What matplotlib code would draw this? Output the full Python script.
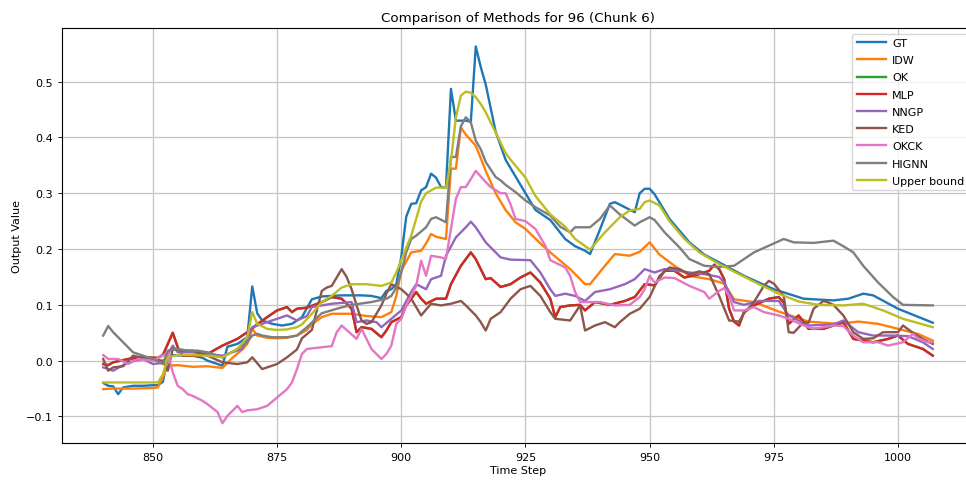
import matplotlib
matplotlib.use("Agg")
import matplotlib.pyplot as plt

# ---------------- data (vertices) ----------------
gt_x = [840,841,842,843,844,846,848,850,851,852,853,854,856,858,860,861,864,865,867,869,870,871,872,874,876,878,880,882,884,886,888,890,892,894,896,897,898,899,900,901,902,903,904,905,906,907,908,909,910,911,912,913,914,915,916,917,919,921,924,927,930,933,935,937,938,940,942,943,945,947,948,949,950,951,954,958,961,964,969,975,981,987,990,993,995,1000,1007]
gt_y = [-0.040,-0.045,-0.046,-0.060,-0.048,-0.045,-0.045,-0.044,-0.044,-0.038,0.005,0.010,0.009,0.009,0.005,0.000,-0.009,0.025,0.030,0.042,0.133,0.085,0.072,0.066,0.063,0.066,0.078,0.110,0.115,0.116,0.117,0.117,0.117,0.116,0.112,0.125,0.128,0.137,0.186,0.258,0.281,0.282,0.305,0.311,0.335,0.328,0.311,0.310,0.487,0.430,0.430,0.430,0.428,0.563,0.526,0.495,0.410,0.360,0.315,0.270,0.252,0.218,0.205,0.197,0.191,0.235,0.281,0.284,0.275,0.266,0.300,0.308,0.308,0.298,0.254,0.212,0.190,0.176,0.152,0.128,0.111,0.108,0.111,0.120,0.117,0.093,0.068]

idw_x = [840,842,846,850,851,852,853,855,858,861,864,866,868,869,870,871,873,875,877,879,881,882,884,886,890,893,896,898,899,900,902,904,905,906,907,909,910,911,912,913,915,917,919,921,923,925,928,930,934,937,938,941,943,946,948,950,952,955,958,962,965,967,971,976,982,988,992,996,1000,1004,1007]
idw_y = [-0.051,-0.050,-0.050,-0.049,-0.048,-0.030,-0.009,-0.008,-0.011,-0.010,-0.013,0.005,0.020,0.030,0.057,0.045,0.041,0.040,0.041,0.045,0.055,0.065,0.078,0.084,0.084,0.080,0.078,0.087,0.116,0.161,0.194,0.197,0.210,0.227,0.222,0.218,0.344,0.344,0.418,0.405,0.385,0.340,0.300,0.270,0.248,0.236,0.210,0.194,0.164,0.137,0.137,0.170,0.191,0.188,0.195,0.212,0.190,0.170,0.152,0.146,0.138,0.110,0.105,0.088,0.070,0.066,0.070,0.066,0.057,0.048,0.036]

mlp_x = [840,841,842,845,848,851,852,854,855,856,859,861,864,867,869,871,873,875,877,878,879,881,884,886,888,890,891,892,894,896,897,898,900,901,903,904,905,907,909,910,912,914,915,917,918,919,920,922,924,926,928,930,931,932,934,936,937,939,942,945,947,949,951,953,955,957,960,962,963,964,965,966,967,968,969,971,974,976,977,978,980,982,985,987,989,991,995,998,1000,1002,1005,1007]
mlp_y = [-0.006,-0.008,-0.003,0.003,0.006,0.005,0.010,0.050,0.024,0.009,0.009,0.012,0.027,0.039,0.051,0.065,0.078,0.090,0.096,0.087,0.093,0.095,0.105,0.114,0.111,0.093,0.051,0.060,0.057,0.042,0.054,0.069,0.078,0.099,0.123,0.111,0.102,0.111,0.111,0.137,0.170,0.194,0.182,0.146,0.148,0.140,0.132,0.137,0.149,0.158,0.140,0.111,0.078,0.096,0.099,0.100,0.090,0.105,0.100,0.107,0.114,0.137,0.135,0.161,0.161,0.149,0.155,0.161,0.172,0.164,0.146,0.093,0.070,0.063,0.087,0.099,0.111,0.114,0.104,0.066,0.081,0.057,0.057,0.063,0.069,0.039,0.033,0.039,0.045,0.030,0.021,0.009]

# OK coincides with MLP in the reference (its green line is hidden underneath)
ok_x = mlp_x
ok_y = mlp_y

nngp_x = [840,842,845,848,850,852,854,855,858,861,864,866,868,869,870,872,874,877,879,881,882,886,890,891,893,895,896,898,900,902,903,905,906,908,909,911,913,914,915,917,918,920,922,926,928,930,931,933,935,937,939,942,945,947,949,951,953,955,958,961,964,965,967,969,972,976,978,982,987,989,992,995,999,1002,1005,1007]
nngp_y = [-0.012,-0.018,-0.003,0.003,-0.006,-0.004,0.027,0.015,0.015,0.012,0.009,0.015,0.021,0.039,0.060,0.066,0.072,0.081,0.072,0.080,0.096,0.102,0.105,0.069,0.072,0.069,0.060,0.075,0.090,0.123,0.137,0.128,0.146,0.152,0.188,0.221,0.239,0.249,0.239,0.212,0.203,0.185,0.181,0.180,0.158,0.128,0.116,0.120,0.116,0.107,0.123,0.128,0.137,0.146,0.164,0.158,0.164,0.162,0.158,0.155,0.150,0.140,0.105,0.100,0.107,0.107,0.081,0.063,0.065,0.072,0.051,0.045,0.045,0.044,0.033,0.021]

ked_x = [840,841,842,844,846,849,852,853,854,856,858,861,864,867,869,870,872,873,875,877,879,880,882,883,884,885,886,887,888,889,890,891,892,893,894,896,897,898,900,901,902,904,906,908,910,912,913,915,916,917,918,920,922,924,926,928,930,931,934,936,937,939,941,943,944,946,948,950,952,954,956,958,960,962,964,966,968,969,971,973,974,975,977,978,979,981,982,983,985,986,987,989,991,993,995,997,1000,1001,1003,1005,1007]
ked_y = [0.003,-0.018,-0.012,-0.010,0.009,0.003,0.000,-0.018,0.021,0.018,0.018,0.009,-0.003,-0.006,-0.003,0.006,-0.015,-0.012,-0.006,0.006,0.020,0.040,0.055,0.090,0.125,0.131,0.134,0.149,0.164,0.150,0.128,0.099,0.072,0.066,0.069,0.099,0.120,0.137,0.128,0.120,0.111,0.081,0.102,0.099,0.102,0.107,0.099,0.081,0.069,0.054,0.075,0.087,0.111,0.128,0.134,0.116,0.087,0.075,0.072,0.099,0.054,0.063,0.069,0.060,0.069,0.084,0.093,0.114,0.152,0.167,0.164,0.155,0.160,0.155,0.116,0.072,0.070,0.085,0.105,0.134,0.143,0.138,0.116,0.051,0.050,0.069,0.068,0.093,0.107,0.104,0.100,0.081,0.051,0.039,0.040,0.051,0.051,0.063,0.050,0.039,0.030]

okck_x = [840,841,843,845,847,850,852,853,854,855,856,857,858,860,861,863,864,865,867,868,869,871,873,875,877,878,879,880,881,884,886,887,888,889,891,892,893,894,896,897,898,899,900,901,903,904,905,906,908,909,910,911,912,913,915,917,918,920,921,922,923,925,927,929,930,933,934,935,936,940,943,946,948,949,950,951,953,955,958,961,962,964,965,966,967,969,971,973,976,978,981,983,987,989,991,993,996,998,1001,1003,1004,1006,1007]
okck_y = [0.010,0.003,0.003,-0.006,0.003,0.000,0.009,0.015,-0.021,-0.045,-0.051,-0.060,-0.063,-0.072,-0.078,-0.092,-0.112,-0.099,-0.081,-0.092,-0.089,-0.087,-0.081,-0.066,-0.051,-0.039,-0.015,0.012,0.021,0.024,0.026,0.051,0.063,0.055,0.039,0.057,0.039,0.021,0.003,0.012,0.027,0.066,0.075,0.099,0.134,0.179,0.152,0.188,0.185,0.182,0.236,0.290,0.311,0.311,0.340,0.320,0.311,0.300,0.300,0.280,0.254,0.250,0.236,0.206,0.180,0.167,0.152,0.123,0.105,0.105,0.099,0.100,0.114,0.128,0.152,0.140,0.149,0.148,0.134,0.123,0.111,0.125,0.130,0.116,0.090,0.090,0.096,0.087,0.081,0.075,0.063,0.057,0.063,0.062,0.045,0.033,0.033,0.027,0.033,0.048,0.040,0.033,0.033]

hignn_x = [840,841,842,844,846,848,850,852,853,855,857,859,861,864,867,869,870,871,872,874,877,879,881,884,887,890,894,897,898,899,900,901,902,903,905,906,907,909,910,911,912,913,914,915,916,917,919,920,921,923,925,927,930,932,934,935,938,940,942,944,947,948,950,951,953,956,958,961,964,967,969,971,974,977,979,983,987,989,991,993,996,999,1001,1007]
hignn_y = [0.045,0.062,0.051,0.033,0.015,0.009,0.003,-0.006,0.018,0.021,0.018,0.018,0.015,0.006,0.021,0.033,0.045,0.048,0.045,0.042,0.042,0.045,0.060,0.085,0.093,0.100,0.105,0.111,0.116,0.131,0.158,0.194,0.218,0.224,0.239,0.254,0.257,0.248,0.365,0.365,0.420,0.436,0.427,0.394,0.379,0.356,0.329,0.323,0.315,0.302,0.287,0.275,0.260,0.240,0.230,0.239,0.239,0.254,0.278,0.262,0.242,0.248,0.257,0.252,0.230,0.203,0.182,0.170,0.168,0.170,0.182,0.194,0.206,0.218,0.212,0.211,0.215,0.205,0.194,0.170,0.140,0.114,0.100,0.099]

ub_x = [840,846,851,852,853,855,858,861,864,867,869,870,871,873,875,877,879,880,882,884,886,888,890,893,896,898,899,900,902,903,904,905,907,909,910,911,912,913,914,915,916,917,919,921,922,925,927,930,933,935,938,941,944,946,948,949,950,952,954,957,960,964,968,972,976,980,984,989,993,997,1001,1007]
ub_y = [-0.039,-0.039,-0.039,-0.025,0.006,0.010,0.010,0.009,0.006,0.021,0.042,0.087,0.066,0.057,0.055,0.056,0.060,0.065,0.084,0.105,0.116,0.131,0.137,0.137,0.134,0.140,0.158,0.180,0.224,0.254,0.285,0.300,0.310,0.310,0.358,0.436,0.475,0.482,0.480,0.472,0.460,0.445,0.409,0.372,0.360,0.328,0.295,0.262,0.240,0.218,0.199,0.230,0.257,0.269,0.272,0.284,0.287,0.278,0.250,0.218,0.194,0.173,0.155,0.137,0.120,0.106,0.100,0.099,0.102,0.090,0.075,0.060]

labels = ["GT", "IDW", "OK", "MLP", "NNGP", "KED", "OKCK", "HIGNN", "Upper bound"]
colors = ["#1f77b4", "#ff7f0e", "#2ca02c", "#d62728", "#9467bd",
          "#8c564b", "#e377c2", "#7f7f7f", "#bcbd22"]

# ---------------- figure ----------------
W, H = 966, 481
fig = plt.figure(figsize=(W / 100, H / 100), dpi=100)
ax = fig.add_axes([62 / W, 1 - 444 / H, 912.5 / W, 415 / H])

series = [(gt_x, gt_y), (idw_x, idw_y), (ok_x, ok_y), (mlp_x, mlp_y),
          (nngp_x, nngp_y), (ked_x, ked_y), (okck_x, okck_y),
          (hignn_x, hignn_y), (ub_x, ub_y)]
for (xs, ys), lab, col in zip(series, labels, colors):
    ax.plot(xs, ys, color=col, lw=1.7, label=lab)

ax.set_xlim(831.7, 1015.4)
ax.set_ylim(-0.1475, 0.596)
ax.set_xticks([850, 875, 900, 925, 950, 975, 1000])
ax.set_yticks([-0.1, 0.0, 0.1, 0.2, 0.3, 0.4, 0.5])
ax.grid(True, color="#c4c4c4", lw=0.9)
ax.tick_params(labelsize=8, length=2.8, width=0.64)
for s in ax.spines.values():
    s.set_linewidth(0.8)

ax.set_title("Comparison of Methods for 96 (Chunk 6)", fontsize=9.6, pad=4.8)
ax.set_xlabel("Time Step", fontsize=8, labelpad=2.5)
ax.set_ylabel("Output Value", fontsize=8, labelpad=3)
ax.legend(loc="upper right", fontsize=8, framealpha=0.8,
          handlelength=2.6, handletextpad=0.6, labelspacing=0.65)

fig.savefig("out.png", dpi=100)
